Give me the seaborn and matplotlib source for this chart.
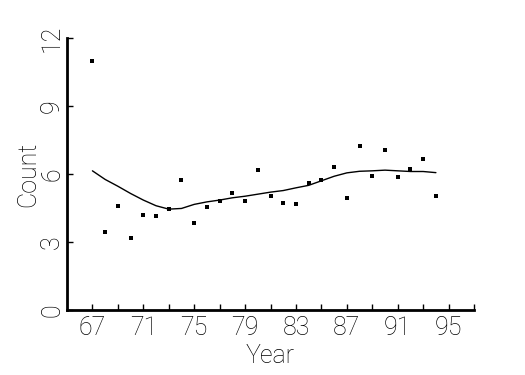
import numpy as np
import pandas as pd
import seaborn as sns
import matplotlib.pyplot as plt

# dados
anos = [67, 68, 69, 70, 71, 72, 73, 74, 75, 76, 77, 78, 79, 80,
        81, 82, 83, 84, 85, 86, 87, 88, 89, 90, 91, 92, 93, 94]
contagens = [11.0, 3.44, 4.58, 3.17, 4.18, 4.14, 4.45, 5.73, 3.83, 4.54, 4.80, 5.15, 4.80, 6.17,
             5.05, 4.70, 4.67, 5.62, 5.73, 6.33, 4.96, 7.25, 5.89, 7.05, 5.87, 6.20, 6.68, 5.05]
suavizado = [6.14, 5.76, 5.46, 5.14, 4.85, 4.60, 4.45, 4.48, 4.66, 4.77, 4.85, 4.95, 5.02, 5.11,
             5.20, 5.27, 5.39, 5.50, 5.70, 5.90, 6.05, 6.12, 6.14, 6.17, 6.14, 6.11, 6.11, 6.06]

df = pd.DataFrame({'Year': anos, 'Count': contagens, 'Smooth': suavizado})

sns.set_theme(style="white")
plt.rcParams['font.family'] = ['Roboto', 'DejaVu Sans']
plt.rcParams['font.weight'] = 'light'

fig = plt.figure(figsize=(5.25, 3.75), dpi=100)
ax = fig.add_axes([0.1276, 0.1733, 0.7754, 0.7254])

sns.scatterplot(data=df, x='Year', y='Count', ax=ax, marker='s', s=6,
                color='black', edgecolor='black', linewidth=0)
sns.lineplot(data=df, x='Year', y='Smooth', ax=ax, color='black', linewidth=1)

ax.set_xlim(65, 97)
ax.set_ylim(0, 12)
ax.set_xticks(np.arange(67, 98, 2))
ax.set_xticklabels([str(a) if (a - 67) % 4 == 0 else '' for a in range(67, 98, 2)])
ax.set_yticks([0, 3, 6, 9, 12])
ax.set_yticklabels(['0', '3', '6', '9', '12'], rotation=90, va='center')

ax.tick_params(axis='both', direction='in', length=4, width=1, colors='black',
               labelsize=18, bottom=True, left=True)
ax.tick_params(axis='x', pad=4)
ax.tick_params(axis='y', pad=2)

for lado in ['top', 'right']:
    ax.spines[lado].set_visible(False)
for lado in ['left', 'bottom']:
    ax.spines[lado].set_color('black')
    ax.spines[lado].set_linewidth(2)

ax.set_xlabel('Year', fontsize=18, color='black', labelpad=3, fontweight='light')
ax.set_ylabel('Count', fontsize=18, color='black', labelpad=0, fontweight='light')
for t in ax.get_xticklabels() + ax.get_yticklabels():
    t.set_color('black')
    t.set_fontweight('light')

fig.savefig('out.png', dpi=100, facecolor='white')
